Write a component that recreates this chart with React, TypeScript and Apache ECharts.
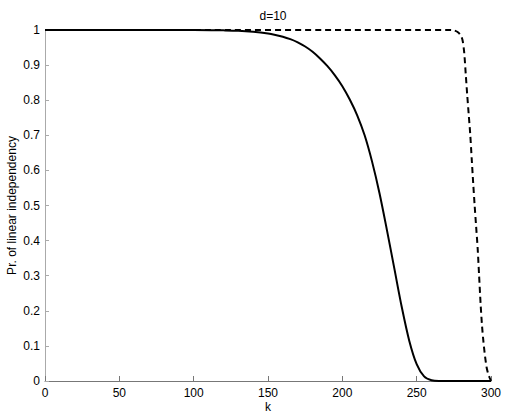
import React, { useEffect, useRef } from "react";
import * as echarts from "echarts";

const title = "d=10";
const xName = "k";
const yName = "Pr. of linear independency";

const solidK = [0, 50, 100, 120, 130, 140, 150, 155, 160, 165, 170, 175, 180, 185, 190, 195, 200, 205, 210, 215, 220, 225, 230, 235, 240, 245, 250, 255, 260, 265, 280, 300];
const solidV = [1, 1, 1, 0.999, 0.998, 0.995, 0.99, 0.986, 0.981, 0.974, 0.965, 0.953, 0.938, 0.919, 0.897, 0.871, 0.84, 0.802, 0.757, 0.7, 0.625, 0.535, 0.43, 0.32, 0.21, 0.115, 0.048, 0.013, 0.002, 0, 0, 0];

const dashK = [0, 100, 200, 250, 270, 275, 278, 280, 281, 282, 283, 284, 285, 286, 287, 288, 289, 290, 291, 292, 293, 294, 295, 296, 297, 298, 299, 300];
const dashV = [1, 1, 1, 1, 1, 0.999, 0.993, 0.982, 0.968, 0.935, 0.875, 0.815, 0.76, 0.705, 0.635, 0.565, 0.5, 0.44, 0.38, 0.3, 0.22, 0.155, 0.108, 0.07, 0.04, 0.022, 0.01, 0];

const FONT = "'Liberation Sans', Arial, Helvetica, sans-serif";

export default function App() {
  const ref = useRef<HTMLDivElement>(null);
  useEffect(() => {
    if (!ref.current) return;
    const chart = echarts.init(ref.current, null, { renderer: "svg" });
    chart.setOption({
      animation: false,
      backgroundColor: "#ffffff",
      title: {
        text: title,
        left: 268,
        top: 5,
        textAlign: "center",
        textStyle: { fontFamily: FONT, fontSize: 12, fontWeight: "normal", color: "#000" },
      },
      grid: { left: 45, right: 17, top: 30, bottom: 37, containLabel: false, outerBoundsMode: "none" },
      xAxis: {
        type: "value",
        min: 0,
        max: 300,
        interval: 50,
        name: xName,
        nameLocation: "middle",
        nameGap: 20,
        nameMoveOverlap: false,
        nameTextStyle: { fontFamily: FONT, fontSize: 12, color: "#000" },
        axisLine: { show: true, lineStyle: { color: "#777", width: 1 } },
        axisTick: { show: true, inside: true, length: 5, lineStyle: { color: "#777" } },
        axisLabel: { fontFamily: FONT, fontSize: 12, color: "#000", margin: 6 },
        splitLine: { show: false },
      },
      yAxis: {
        type: "value",
        min: 0,
        max: 1,
        interval: 0.1,
        name: yName,
        nameLocation: "middle",
        nameGap: 27,
        nameMoveOverlap: false,
        nameTextStyle: { fontFamily: FONT, fontSize: 12, color: "#000" },
        axisLine: { show: true, lineStyle: { color: "#aaa", width: 1 } },
        axisTick: { show: true, inside: true, length: 4, lineStyle: { color: "#aaa" } },
        axisLabel: { fontFamily: FONT, fontSize: 12, color: "#000", margin: 5 },
        splitLine: { show: false },
      },
      series: [
        {
          type: "line",
          data: dashK.map((k, i) => [k, dashV[i]]),
          showSymbol: false,
          smooth: 0.25,
          lineStyle: { color: "#000", width: 2, type: [6, 4] },
          z: 2,
        },
        {
          type: "line",
          data: solidK.map((k, i) => [k, solidV[i]]),
          showSymbol: false,
          smooth: 0.3,
          lineStyle: { color: "#000", width: 2 },
          z: 3,
        },
      ],
    });
    return () => chart.dispose();
  }, []);
  return <div ref={ref} style={{ width: 508, height: 418, position: "absolute", left: 0, top: 0 }} />;
}
